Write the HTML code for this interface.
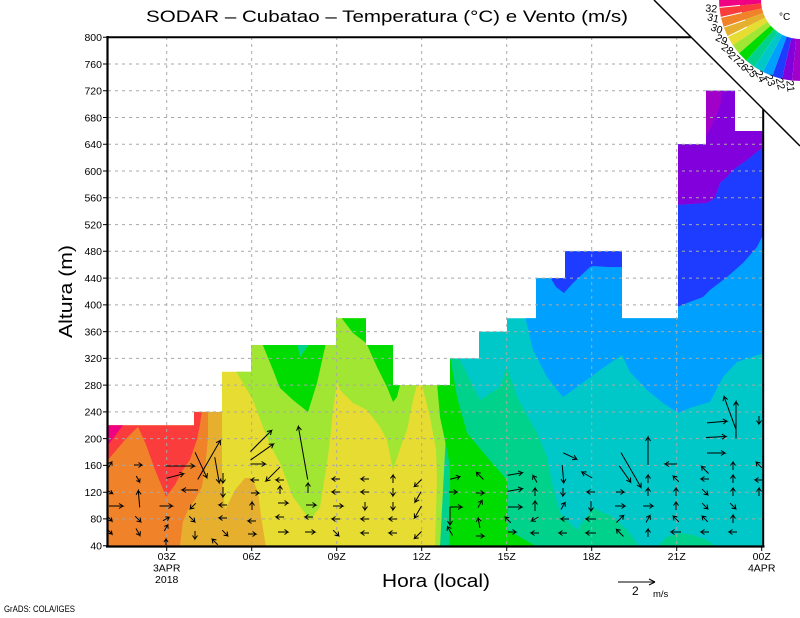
<!DOCTYPE html>
<html><head><meta charset="utf-8"><style>html,body{margin:0;padding:0;background:#fff}svg{display:block}</style></head>
<body>
<svg width="800" height="618" viewBox="0 0 800 618" xmlns="http://www.w3.org/2000/svg" font-family="'Liberation Sans', sans-serif">
<defs>
<clipPath id="m"><path d="M108,546 L108,425.3 L194,425.3 L194,411.9 L222,411.9 L222,371.8 L251,371.8 L251,345 L336,345 L336,318.2 L366,318.2 L366,345 L393,345 L393,385.1 L450,385.1 L450,358.4 L479,358.4 L479,331.6 L507,331.6 L507,318.2 L536,318.2 L536,278.1 L565,278.1 L565,251.3 L622,251.3 L622,318.2 L678,318.2 L678,144.3 L706,144.3 L706,90.8 L735,90.8 L735,131 L763,131 L763,546 Z"/></clipPath>
</defs>
<rect width="800" height="618" fill="#fff"/>
<g clip-path="url(#m)">
<rect x="100" y="30" width="350" height="520" fill="#e6dc32"/>
<rect x="450" y="30" width="320" height="520" fill="#00c8c8"/>
<polygon fill="#f0822a" points="108,460 125,440 138,427 146,445 155,470 166,497 175,485 183,470 190,460 197,440 200,425 202,410 210,410 208,440 205,470 202,487 195,500 188,510 183,522 180,547 108,547"/>
<polygon fill="#fa3c3c" points="108,420 194,420 194,410 202,410 200,425 197,440 190,460 183,470 175,485 166,497 155,470 146,445 138,427 125,440 108,460"/>
<polygon fill="#f00082" points="108,420 123,420 123,425.3 108,445"/>
<polygon fill="#e6af2d" points="208,410 222,410 222,480 225,510 235,490 245,478 252,478 258,492 262,523 266,547 180,547 183,522 188,510 195,500 202,487 205,470 208,440"/>
<polygon fill="#a0e632" points="236,316 451,316 451,547 435,547 437,480 436,450 430,417 422,385 417,385 413,400 407,430 403,440 393,470 387,440 380,427 367,410 353,403 340,390 337,382 333,410 330,440 327,463 320,507 310,520 293,497 280,463 270,445 263,427 253,400 240,378 236,371"/>
<polygon fill="#00dc00" points="262,343 326,343 317,383 308,412 293,400 280,388 273,370"/>
<polygon fill="#00d28c" points="297,343 310,343 300,357"/>
<polygon fill="#00dc00" points="340,316 366,316 366,343 394,343 394,385 400,385 397,397 393,402 387,387 377,367 368,347 366,343 353,333"/>
<polygon fill="#00d28c" points="450,358 460,360 480,400 500,387 507,367 517,397 537,433 547,457 553,487 560,513 577,530 593,508 613,517 627,530 640,547 440,547"/>
<polygon fill="#00dc00" points="437,383 450,383 450,356 457,397 467,433 487,457 507,480 508,487 508,530 537,547 449,547 450,467 447,450 440,417"/>
<polygon fill="#00d28c" points="657,547 667,537 680,533 693,535 707,540 717,547"/>
<polygon fill="#00a0ff" points="525,316 533,350 547,377 563,397 580,385 600,370 622,355 630,372 647,390 663,403 678,413 690,408 710,402 723,377 737,362 764,353 764,80 525,80"/>
<polygon fill="#1e3cff" points="550,277 564,277 564,250 623,250 623,267 608,267 593,266 590,267 573,283 564,293 556,287"/>
<polygon fill="#1e3cff" points="677,307 687,303 703,297 710,290 727,277 743,263 757,247 764,233 764,147 757,152 747,160 733,170 727,177 720,183 715,198 707,203 677,205"/>
<polygon fill="#8200dc" points="677,205 707,203 715,198 720,183 727,177 733,170 747,160 757,152 764,147 764,85 677,85"/>
<polygon fill="#a000c8" points="706,88 723,88 720,107 713,123 706,137"/>
</g>
<g stroke="#a8a8a8" stroke-width="1" stroke-dasharray="3,4" fill="none">
<path d="M108,518.9H763M108,492.2H763M108,465.4H763M108,438.6H763M108,411.9H763M108,385.1H763M108,358.4H763M108,331.6H763M108,304.9H763M108,278.1H763M108,251.3H763M108,224.6H763M108,197.8H763M108,171H763M108,144.3H763M108,117.5H763M108,90.8H763M108,64H763"/>
<path d="M166.7,37V546M251.7,37V546M336.7,37V546M421.7,37V546M506.7,37V546M591.7,37V546M676.7,37V546"/>
</g>
<g stroke="#000" stroke-width="1" fill="none">
<path transform="translate(110,465) rotate(-60)" d="M-3.5 0H3.5l-3-2.2m3 2.2l-3 2.2"/>
<path transform="translate(110,492) rotate(30)" d="M-3 0H3l-3-2m3 2l-3 2"/>
<path transform="translate(116,506) rotate(0)" d="M-7 0H7l-4-2.5m4 2.5l-4 2.5"/>
<path transform="translate(110,519) rotate(45)" d="M-3 0H3l-3-2m3 2l-3 2"/>
<path transform="translate(110,532) rotate(45)" d="M-3 0H3l-3-2m3 2l-3 2"/>
<path transform="translate(138,465) rotate(0)" d="M-4 0H4l-3.5-2.5m3.5 2.5l-3.5 2.5"/>
<path transform="translate(138,479) rotate(60)" d="M-3.5 0H3.5l-3-2.2m3 2.2l-3 2.2"/>
<path transform="translate(139,499) rotate(-95)" d="M-8.5 0H8.5l-4-2.5m4 2.5l-4 2.5"/>
<path transform="translate(138,519) rotate(45)" d="M-4 0H4l-3.5-2.5m3.5 2.5l-3.5 2.5"/>
<path transform="translate(138,532) rotate(60)" d="M-4 0H4l-3.5-2.5m3.5 2.5l-3.5 2.5"/>
<path transform="translate(180,466) rotate(0)" d="M-14.5 0H14.5l-4-2.5m4 2.5l-4 2.5"/>
<path transform="translate(175,476) rotate(-15)" d="M-9 0H9l-4-2.5m4 2.5l-4 2.5"/>
<path transform="translate(166,506) rotate(0)" d="M-6.5 0H6.5l-4-2.5m4 2.5l-4 2.5"/>
<path transform="translate(166,519) rotate(-30)" d="M-3.5 0H3.5l-3-2.2m3 2.2l-3 2.2"/>
<path transform="translate(166,528) rotate(-60)" d="M-3.5 0H3.5l-3-2.2m3 2.2l-3 2.2"/>
<path transform="translate(166,542) rotate(-90)" d="M-3 0H3l-3-2m3 2l-3 2"/>
<path transform="translate(201,465) rotate(65)" d="M-14 0H14l-4-2.5m4 2.5l-4 2.5"/>
<path transform="translate(209,460) rotate(-60)" d="M-22.5 0H22.5l-4-2.5m4 2.5l-4 2.5"/>
<path transform="translate(217,470) rotate(80)" d="M-13 0H13l-4-2.5m4 2.5l-4 2.5"/>
<path transform="translate(190,490) rotate(180)" d="M-8 0H8l-4-2.5m4 2.5l-4 2.5"/>
<path transform="translate(193,506) rotate(135)" d="M-4 0H4l-3.5-2.5m3.5 2.5l-3.5 2.5"/>
<path transform="translate(192,519) rotate(45)" d="M-4 0H4l-3.5-2.5m3.5 2.5l-3.5 2.5"/>
<path transform="translate(195,535) rotate(90)" d="M-4 0H4l-3.5-2.5m3.5 2.5l-3.5 2.5"/>
<path transform="translate(223,478) rotate(90)" d="M-5 0H5l-3.5-2.5m3.5 2.5l-3.5 2.5"/>
<path transform="translate(223,492) rotate(90)" d="M-5 0H5l-3.5-2.5m3.5 2.5l-3.5 2.5"/>
<path transform="translate(223,505) rotate(180)" d="M-4 0H4l-3.5-2.5m3.5 2.5l-3.5 2.5"/>
<path transform="translate(223,518) rotate(180)" d="M-4 0H4l-3.5-2.5m3.5 2.5l-3.5 2.5"/>
<path transform="translate(225,533) rotate(45)" d="M-4 0H4l-3.5-2.5m3.5 2.5l-3.5 2.5"/>
<path transform="translate(215,542) rotate(-135)" d="M-4 0H4l-3.5-2.5m3.5 2.5l-3.5 2.5"/>
<path transform="translate(261,441) rotate(-45)" d="M-15 0H15l-4-2.5m4 2.5l-4 2.5"/>
<path transform="translate(262,452) rotate(-35)" d="M-14 0H14l-4-2.5m4 2.5l-4 2.5"/>
<path transform="translate(258,464) rotate(0)" d="M-7.5 0H7.5l-4-2.5m4 2.5l-4 2.5"/>
<path transform="translate(273,474) rotate(135)" d="M-10 0H10l-4-2.5m4 2.5l-4 2.5"/>
<path transform="translate(255,480) rotate(180)" d="M-4 0H4l-3.5-2.5m3.5 2.5l-3.5 2.5"/>
<path transform="translate(255,493) rotate(0)" d="M-4 0H4l-3.5-2.5m3.5 2.5l-3.5 2.5"/>
<path transform="translate(252,506) rotate(-90)" d="M-4 0H4l-3.5-2.5m3.5 2.5l-3.5 2.5"/>
<path transform="translate(252,521) rotate(180)" d="M-4 0H4l-3.5-2.5m3.5 2.5l-3.5 2.5"/>
<path transform="translate(252,534) rotate(0)" d="M-4 0H4l-3.5-2.5m3.5 2.5l-3.5 2.5"/>
<path transform="translate(280,480) rotate(180)" d="M-4 0H4l-3.5-2.5m3.5 2.5l-3.5 2.5"/>
<path transform="translate(280,490) rotate(-90)" d="M-4 0H4l-3.5-2.5m3.5 2.5l-3.5 2.5"/>
<path transform="translate(283,503) rotate(0)" d="M-5 0H5l-3.5-2.5m3.5 2.5l-3.5 2.5"/>
<path transform="translate(280,517) rotate(180)" d="M-4 0H4l-3.5-2.5m3.5 2.5l-3.5 2.5"/>
<path transform="translate(283,532) rotate(0)" d="M-5 0H5l-3.5-2.5m3.5 2.5l-3.5 2.5"/>
<path transform="translate(303,453) rotate(-100)" d="M-27 0H27l-4-2.5m4 2.5l-4 2.5"/>
<path transform="translate(308,488) rotate(-90)" d="M-5 0H5l-3.5-2.5m3.5 2.5l-3.5 2.5"/>
<path transform="translate(311,505) rotate(0)" d="M-5 0H5l-3.5-2.5m3.5 2.5l-3.5 2.5"/>
<path transform="translate(309,517) rotate(180)" d="M-4 0H4l-3.5-2.5m3.5 2.5l-3.5 2.5"/>
<path transform="translate(310,532) rotate(0)" d="M-5 0H5l-3.5-2.5m3.5 2.5l-3.5 2.5"/>
<path transform="translate(336,479) rotate(180)" d="M-4 0H4l-3.5-2.5m3.5 2.5l-3.5 2.5"/>
<path transform="translate(336,492) rotate(180)" d="M-4 0H4l-3.5-2.5m3.5 2.5l-3.5 2.5"/>
<path transform="translate(338,506) rotate(0)" d="M-5 0H5l-3.5-2.5m3.5 2.5l-3.5 2.5"/>
<path transform="translate(336,519) rotate(180)" d="M-4 0H4l-3.5-2.5m3.5 2.5l-3.5 2.5"/>
<path transform="translate(336,533) rotate(45)" d="M-4 0H4l-3.5-2.5m3.5 2.5l-3.5 2.5"/>
<path transform="translate(365,479) rotate(180)" d="M-4 0H4l-3.5-2.5m3.5 2.5l-3.5 2.5"/>
<path transform="translate(365,492) rotate(180)" d="M-4 0H4l-3.5-2.5m3.5 2.5l-3.5 2.5"/>
<path transform="translate(365,506) rotate(90)" d="M-4 0H4l-3.5-2.5m3.5 2.5l-3.5 2.5"/>
<path transform="translate(365,519) rotate(180)" d="M-4 0H4l-3.5-2.5m3.5 2.5l-3.5 2.5"/>
<path transform="translate(365,533) rotate(180)" d="M-4 0H4l-3.5-2.5m3.5 2.5l-3.5 2.5"/>
<path transform="translate(393,479) rotate(-90)" d="M-4 0H4l-3.5-2.5m3.5 2.5l-3.5 2.5"/>
<path transform="translate(393,492) rotate(90)" d="M-4 0H4l-3.5-2.5m3.5 2.5l-3.5 2.5"/>
<path transform="translate(393,506) rotate(90)" d="M-4 0H4l-3.5-2.5m3.5 2.5l-3.5 2.5"/>
<path transform="translate(393,519) rotate(180)" d="M-4 0H4l-3.5-2.5m3.5 2.5l-3.5 2.5"/>
<path transform="translate(393,533) rotate(180)" d="M-4 0H4l-3.5-2.5m3.5 2.5l-3.5 2.5"/>
<path transform="translate(418,483) rotate(135)" d="M-5 0H5l-3.5-2.5m3.5 2.5l-3.5 2.5"/>
<path transform="translate(418,497) rotate(120)" d="M-6 0H6l-4-2.5m4 2.5l-4 2.5"/>
<path transform="translate(418,512) rotate(120)" d="M-7 0H7l-4-2.5m4 2.5l-4 2.5"/>
<path transform="translate(418,535) rotate(135)" d="M-5 0H5l-3.5-2.5m3.5 2.5l-3.5 2.5"/>
<path transform="translate(455,478) rotate(-15)" d="M-5 0H5l-3.5-2.5m3.5 2.5l-3.5 2.5"/>
<path transform="translate(453,492) rotate(0)" d="M-4 0H4l-3.5-2.5m3.5 2.5l-3.5 2.5"/>
<path transform="translate(456,507) rotate(0)" d="M-6 0H6l-4-2.5m4 2.5l-4 2.5"/>
<path transform="translate(450,516) rotate(90)" d="M-9 0H9l-4-2.5m4 2.5l-4 2.5"/>
<path transform="translate(450,531) rotate(-120)" d="M-5 0H5l-3.5-2.5m3.5 2.5l-3.5 2.5"/>
<path transform="translate(480,476) rotate(-135)" d="M-5 0H5l-3.5-2.5m3.5 2.5l-3.5 2.5"/>
<path transform="translate(480,493) rotate(0)" d="M-4 0H4l-3.5-2.5m3.5 2.5l-3.5 2.5"/>
<path transform="translate(480,504) rotate(-60)" d="M-4 0H4l-3.5-2.5m3.5 2.5l-3.5 2.5"/>
<path transform="translate(479,523) rotate(-100)" d="M-5 0H5l-3.5-2.5m3.5 2.5l-3.5 2.5"/>
<path transform="translate(480,536) rotate(0)" d="M-4 0H4l-3.5-2.5m3.5 2.5l-3.5 2.5"/>
<path transform="translate(515,474) rotate(-10)" d="M-7.5 0H7.5l-4-2.5m4 2.5l-4 2.5"/>
<path transform="translate(515,490) rotate(-10)" d="M-7.5 0H7.5l-4-2.5m4 2.5l-4 2.5"/>
<path transform="translate(515,507) rotate(0)" d="M-7 0H7l-4-2.5m4 2.5l-4 2.5"/>
<path transform="translate(508,520) rotate(-135)" d="M-4 0H4l-3.5-2.5m3.5 2.5l-3.5 2.5"/>
<path transform="translate(512,532) rotate(0)" d="M-4 0H4l-3.5-2.5m3.5 2.5l-3.5 2.5"/>
<path transform="translate(535,479) rotate(-120)" d="M-4 0H4l-3.5-2.5m3.5 2.5l-3.5 2.5"/>
<path transform="translate(535,492) rotate(-90)" d="M-4 0H4l-3.5-2.5m3.5 2.5l-3.5 2.5"/>
<path transform="translate(535,506) rotate(-90)" d="M-5 0H5l-3.5-2.5m3.5 2.5l-3.5 2.5"/>
<path transform="translate(535,519) rotate(150)" d="M-4 0H4l-3.5-2.5m3.5 2.5l-3.5 2.5"/>
<path transform="translate(535,533) rotate(180)" d="M-4 0H4l-3.5-2.5m3.5 2.5l-3.5 2.5"/>
<path transform="translate(570,456) rotate(25)" d="M-7.5 0H7.5l-4-2.5m4 2.5l-4 2.5"/>
<path transform="translate(563,474) rotate(85)" d="M-9 0H9l-4-2.5m4 2.5l-4 2.5"/>
<path transform="translate(563,492) rotate(90)" d="M-4 0H4l-3.5-2.5m3.5 2.5l-3.5 2.5"/>
<path transform="translate(563,506) rotate(-60)" d="M-4 0H4l-3.5-2.5m3.5 2.5l-3.5 2.5"/>
<path transform="translate(565,519) rotate(180)" d="M-4 0H4l-3.5-2.5m3.5 2.5l-3.5 2.5"/>
<path transform="translate(563,533) rotate(180)" d="M-4 0H4l-3.5-2.5m3.5 2.5l-3.5 2.5"/>
<path transform="translate(587,475) rotate(-150)" d="M-6 0H6l-4-2.5m4 2.5l-4 2.5"/>
<path transform="translate(591,492) rotate(180)" d="M-4 0H4l-3.5-2.5m3.5 2.5l-3.5 2.5"/>
<path transform="translate(591,506) rotate(90)" d="M-5 0H5l-3.5-2.5m3.5 2.5l-3.5 2.5"/>
<path transform="translate(591,519) rotate(180)" d="M-5 0H5l-3.5-2.5m3.5 2.5l-3.5 2.5"/>
<path transform="translate(591,533) rotate(180)" d="M-5 0H5l-3.5-2.5m3.5 2.5l-3.5 2.5"/>
<path transform="translate(631,470) rotate(60)" d="M-20 0H20l-4-2.5m4 2.5l-4 2.5"/>
<path transform="translate(625,474) rotate(55)" d="M-10 0H10l-4-2.5m4 2.5l-4 2.5"/>
<path transform="translate(620,492) rotate(0)" d="M-4 0H4l-3.5-2.5m3.5 2.5l-3.5 2.5"/>
<path transform="translate(620,506) rotate(0)" d="M-5 0H5l-3.5-2.5m3.5 2.5l-3.5 2.5"/>
<path transform="translate(620,519) rotate(-45)" d="M-5 0H5l-3.5-2.5m3.5 2.5l-3.5 2.5"/>
<path transform="translate(620,533) rotate(-135)" d="M-5 0H5l-3.5-2.5m3.5 2.5l-3.5 2.5"/>
<path transform="translate(648,451) rotate(-90)" d="M-14 0H14l-4-2.5m4 2.5l-4 2.5"/>
<path transform="translate(648,479) rotate(-90)" d="M-4 0H4l-3.5-2.5m3.5 2.5l-3.5 2.5"/>
<path transform="translate(648,492) rotate(-90)" d="M-4 0H4l-3.5-2.5m3.5 2.5l-3.5 2.5"/>
<path transform="translate(648,506) rotate(0)" d="M-5 0H5l-3.5-2.5m3.5 2.5l-3.5 2.5"/>
<path transform="translate(648,519) rotate(-60)" d="M-4 0H4l-3.5-2.5m3.5 2.5l-3.5 2.5"/>
<path transform="translate(648,533) rotate(-90)" d="M-4 0H4l-3.5-2.5m3.5 2.5l-3.5 2.5"/>
<path transform="translate(671,464) rotate(180)" d="M-6 0H6l-4-2.5m4 2.5l-4 2.5"/>
<path transform="translate(676,479) rotate(-135)" d="M-4 0H4l-3.5-2.5m3.5 2.5l-3.5 2.5"/>
<path transform="translate(676,492) rotate(-90)" d="M-4 0H4l-3.5-2.5m3.5 2.5l-3.5 2.5"/>
<path transform="translate(676,506) rotate(-90)" d="M-4 0H4l-3.5-2.5m3.5 2.5l-3.5 2.5"/>
<path transform="translate(676,519) rotate(-135)" d="M-4 0H4l-3.5-2.5m3.5 2.5l-3.5 2.5"/>
<path transform="translate(676,532) rotate(180)" d="M-5 0H5l-3.5-2.5m3.5 2.5l-3.5 2.5"/>
<path transform="translate(717,422) rotate(-5)" d="M-10 0H10l-4-2.5m4 2.5l-4 2.5"/>
<path transform="translate(716,437) rotate(-3)" d="M-10 0H10l-4-2.5m4 2.5l-4 2.5"/>
<path transform="translate(716,453) rotate(0)" d="M-9 0H9l-4-2.5m4 2.5l-4 2.5"/>
<path transform="translate(705,470) rotate(-135)" d="M-5 0H5l-3.5-2.5m3.5 2.5l-3.5 2.5"/>
<path transform="translate(705,479) rotate(180)" d="M-4 0H4l-3.5-2.5m3.5 2.5l-3.5 2.5"/>
<path transform="translate(705,492) rotate(45)" d="M-4 0H4l-3.5-2.5m3.5 2.5l-3.5 2.5"/>
<path transform="translate(705,506) rotate(45)" d="M-4 0H4l-3.5-2.5m3.5 2.5l-3.5 2.5"/>
<path transform="translate(705,519) rotate(-135)" d="M-4 0H4l-3.5-2.5m3.5 2.5l-3.5 2.5"/>
<path transform="translate(705,532) rotate(180)" d="M-4 0H4l-3.5-2.5m3.5 2.5l-3.5 2.5"/>
<path transform="translate(730,413) rotate(-110)" d="M-17.5 0H17.5l-4-2.5m4 2.5l-4 2.5"/>
<path transform="translate(736,420) rotate(-90)" d="M-18.5 0H18.5l-4-2.5m4 2.5l-4 2.5"/>
<path transform="translate(733,466) rotate(-90)" d="M-4 0H4l-3.5-2.5m3.5 2.5l-3.5 2.5"/>
<path transform="translate(733,479) rotate(-90)" d="M-4 0H4l-3.5-2.5m3.5 2.5l-3.5 2.5"/>
<path transform="translate(733,492) rotate(-90)" d="M-4 0H4l-3.5-2.5m3.5 2.5l-3.5 2.5"/>
<path transform="translate(733,506) rotate(45)" d="M-4 0H4l-3.5-2.5m3.5 2.5l-3.5 2.5"/>
<path transform="translate(733,519) rotate(-90)" d="M-4 0H4l-3.5-2.5m3.5 2.5l-3.5 2.5"/>
<path transform="translate(733,532) rotate(180)" d="M-4 0H4l-3.5-2.5m3.5 2.5l-3.5 2.5"/>
<path transform="translate(759,420) rotate(90)" d="M-4 0H4l-3.5-2.5m3.5 2.5l-3.5 2.5"/>
<path transform="translate(759,465) rotate(-135)" d="M-4 0H4l-3.5-2.5m3.5 2.5l-3.5 2.5"/>
<path transform="translate(759,480) rotate(180)" d="M-4 0H4l-3.5-2.5m3.5 2.5l-3.5 2.5"/>
<path transform="translate(759,492) rotate(-90)" d="M-4 0H4l-3.5-2.5m3.5 2.5l-3.5 2.5"/>
</g>
<g stroke="#000" fill="none">
<path d="M107.5,36V547M106,546.5H764.5" stroke-width="2.2"/>
<path d="M108,37.2H691M763.2,108V547" stroke-width="2"/>
<path d="M103,37.2H108M103,64H108M103,90.8H108M103,117.5H108M103,144.3H108M103,171H108M103,197.8H108M103,224.6H108M103,251.3H108M103,278.1H108M103,304.9H108M103,331.6H108M103,358.4H108M103,385.1H108M103,411.9H108M103,438.6H108M103,465.4H108M103,492.2H108M103,518.9H108M103,545.7H108" stroke-width="1"/>
<path d="M166.7,546V551M251.7,546V551M336.7,546V551M421.7,546V551M506.7,546V551M591.7,546V551M676.7,546V551M761.7,546V551" stroke-width="1"/>
</g>
<g font-size="10.5" text-anchor="end" fill="#000">
<text x="102" y="41">800</text><text x="102" y="67.8">760</text><text x="102" y="94.6">720</text><text x="102" y="121.3">680</text><text x="102" y="148.1">640</text><text x="102" y="174.8">600</text><text x="102" y="201.6">560</text><text x="102" y="228.4">520</text><text x="102" y="255.1">480</text><text x="102" y="281.9">440</text><text x="102" y="308.7">400</text><text x="102" y="335.4">360</text><text x="102" y="362.2">320</text><text x="102" y="388.9">280</text><text x="102" y="415.7">240</text><text x="102" y="442.4">200</text><text x="102" y="469.2">160</text><text x="102" y="496">120</text><text x="102" y="522.7">80</text><text x="102" y="549.5">40</text>
</g>
<g font-size="10.5" text-anchor="middle" fill="#000">
<text x="166.7" y="560">03Z</text><text x="166.7" y="571.5">3APR</text><text x="166.7" y="583">2018</text>
<text x="251.7" y="560">06Z</text><text x="336.7" y="560">09Z</text><text x="421.7" y="560">12Z</text><text x="506.7" y="560">15Z</text><text x="591.7" y="560">18Z</text><text x="676.7" y="560">21Z</text>
<text x="761.7" y="560">00Z</text><text x="761.7" y="571.5">4APR</text>
</g>
<text x="146" y="22" font-size="17" textLength="482" lengthAdjust="spacingAndGlyphs">SODAR – Cubatao – Temperatura (°C) e Vento (m/s)</text>
<text x="382" y="587" font-size="18" textLength="108" lengthAdjust="spacingAndGlyphs">Hora (local)</text>
<text transform="translate(72,338) rotate(-90)" font-size="18" textLength="93" lengthAdjust="spacingAndGlyphs">Altura (m)</text>
<text x="4" y="612" font-size="9" textLength="71" lengthAdjust="spacingAndGlyphs">GrADS: COLA/IGES</text>
<path d="M618,582H655M655,582l-6-3m6,3l-6,3" stroke="#000" stroke-width="1" fill="none"/>
<text x="632" y="595" font-size="12">2</text>
<text x="653" y="597" font-size="9.5">m/s</text>
<polygon points="654,0 800,0 800,146" fill="#fff"/>
<path d="M654,0L800,146" stroke="#000" stroke-width="1.5"/>
<g>
<polygon fill="#f00082" points="719.05,-2.83 719.33,7.34 761.16,3.53 761.02,-1.36"/>
<polygon fill="#fa3c3c" points="719.33,7.34 720.89,17.39 761.91,8.37 761.16,3.53"/>
<polygon fill="#f0822a" points="720.89,17.39 723.69,27.17 763.26,13.08 761.91,8.37"/>
<polygon fill="#e6af2d" points="723.69,27.17 727.70,36.52 765.19,17.58 763.26,13.08"/>
<polygon fill="#e6dc32" points="727.70,36.52 732.85,45.29 767.67,21.81 765.19,17.58"/>
<polygon fill="#a0e632" points="732.85,45.29 739.05,53.35 770.66,25.69 767.67,21.81"/>
<polygon fill="#00dc00" points="739.05,53.35 746.22,60.57 774.11,29.16 770.66,25.69"/>
<polygon fill="#00d28c" points="746.22,60.57 754.24,66.83 777.97,32.18 774.11,29.16"/>
<polygon fill="#00c8c8" points="754.24,66.83 762.98,72.05 782.18,34.69 777.97,32.18"/>
<polygon fill="#00a0ff" points="762.98,72.05 772.30,76.12 786.66,36.65 782.18,34.69"/>
<polygon fill="#1e3cff" points="772.30,76.12 782.05,78.99 791.36,38.03 786.66,36.65"/>
<polygon fill="#8200dc" points="782.05,78.99 792.10,80.61 796.19,38.81 791.36,38.03"/>
<polygon fill="#a000c8" points="792.10,80.61 802.26,80.97 801.09,38.98 796.19,38.81"/>
</g>
<g stroke="#fff" stroke-width="1">
<path d="M719.33,7.34L740,5.4M720.89,17.39L742,12.5M723.69,27.17L745,20M727.7,36.52L747,27"/>
</g>
<g font-size="10.5" text-anchor="middle" fill="#000">
<text transform="translate(711,12) rotate(5)">32</text>
<text transform="translate(712.5,21.5) rotate(12)">31</text>
<text transform="translate(715.5,32) rotate(20)">30</text>
<text transform="translate(720,42.5) rotate(27)">29</text>
<text transform="translate(725.5,52) rotate(34)">28</text>
<text transform="translate(732,60) rotate(41)">27</text>
<text transform="translate(740,67.5) rotate(48)">26</text>
<text transform="translate(748.5,73.5) rotate(56)">25</text>
<text transform="translate(757.5,78) rotate(63)">24</text>
<text transform="translate(767,81.5) rotate(70)">23</text>
<text transform="translate(777,84.5) rotate(77)">22</text>
<text transform="translate(787,86.5) rotate(84)">21</text>
</g>
<text x="779" y="20" font-size="10">°C</text>
</svg>
</body></html>
